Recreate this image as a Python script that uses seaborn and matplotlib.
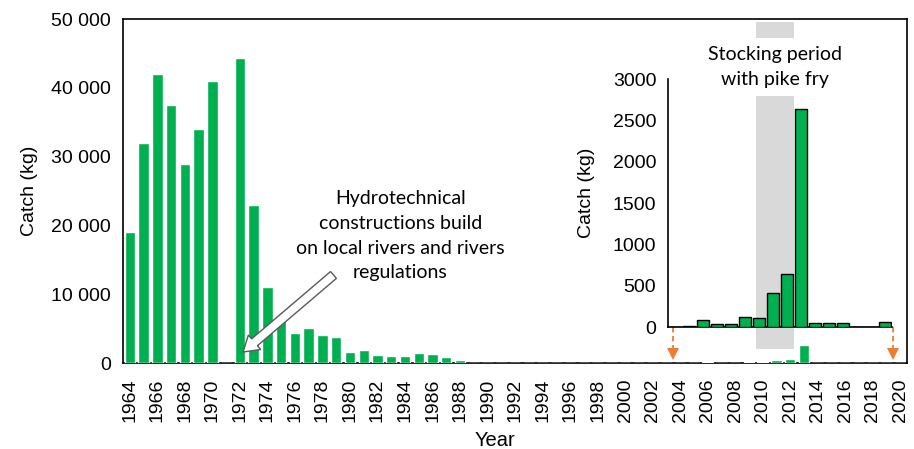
import matplotlib
matplotlib.use("Agg")
import matplotlib.pyplot as plt
import seaborn as sns
import pandas as pd
from matplotlib.ticker import FuncFormatter, FixedLocator
from matplotlib.patches import FancyArrow
from matplotlib.transforms import IdentityTransform

# ---------------- data ----------------
years = list(range(1964, 2021))
catch = [19000, 32000, 42000, 37500, 29000, 34000, 41000, 0, 44400, 23000,
         11000, 6300, 4400, 5100, 4000, 3850, 1600, 1900, 1150, 950,
         950, 1400, 1300, 900, 430, 0, 0, 0, 0, 0,
         0, 0, 0, 0, 0, 0, 0, 0, 0, 0,
         0, 10, 80, 40, 40, 120, 105, 410, 640, 2640,
         45, 45, 48, 0, 0, 60, 0]

inset_years = list(range(2004, 2020))
inset_catch = [0, 10, 80, 40, 40, 120, 105, 410, 640, 2640, 45, 45, 48, 0, 0, 60]

stock_start, stock_end = 2010, 2012
label_years = years[::2]

main_yticks = [0, 10000, 20000, 30000, 40000, 50000]
inset_yticks = [0, 500, 1000, 1500, 2000, 2500, 3000]

GREEN = "#00B050"
GRAY = "#D9D9D9"
ORANGE = "#ED7D31"

sns.set_style("white")
plt.rcParams["font.family"] = ["Liberation Sans", "DejaVu Sans"]
for k in ["text.color", "axes.labelcolor", "xtick.color", "ytick.color", "axes.edgecolor"]:
    plt.rcParams[k] = "black"

df = pd.DataFrame({"Year": [str(y) for y in years], "Catch": catch})
dfi = pd.DataFrame({"Year": [str(y) for y in inset_years], "Catch": inset_catch})

fig = plt.figure(figsize=(9.14, 4.49), dpi=100)
ax = fig.add_axes([0.1346, 0.1915, 0.8578, 0.7661])

sns.barplot(data=df, x="Year", y="Catch", order=[str(y) for y in years],
            color=GREEN, saturation=1, width=0.76, ax=ax, zorder=3)
ax.set_xlim(-0.5, len(years) - 0.5)
ax.set_ylim(0, 50000)

ax.set_yticks(main_yticks)
ax.yaxis.set_major_formatter(FuncFormatter(lambda v, p: f"{int(v):,}".replace(",", " ")))
ax.set_xticks([years.index(y) for y in label_years])
ax.set_xticklabels([str(y) for y in label_years], rotation=90)
ax.xaxis.set_minor_locator(FixedLocator([i - 0.5 for i in range(len(years) + 1)]))
ax.tick_params(axis="x", which="major", length=0, labelsize=14, pad=11)
ax.tick_params(axis="x", which="minor", length=5, width=1.2, direction="out", color="black")
ax.tick_params(axis="y", which="major", length=5, width=1.2, direction="out", labelsize=14, color="black")
for s in ax.spines.values():
    s.set_color("black")
    s.set_linewidth(1.2)
ax.set_xlabel("Year", fontsize=14.5)
ax.xaxis.set_label_coords(0.4745, -0.198)
ax.set_ylabel("Catch (kg)", fontsize=14)
ax.yaxis.set_label_coords(-0.109, 0.5)

# stocking period band
x0 = years.index(stock_start) - 0.5
x1 = years.index(stock_end) + 0.25
ax.axvspan(x0, x1, ymin=0.0407, ymax=0.991, color=GRAY, zorder=1, lw=0)
ax.text((x0 + x1) / 2, 43000, "Stocking period\nwith pike fry", ha="center", va="center",
        fontsize=14, family=["Lato", "DejaVu Sans"], linespacing=1.6, zorder=2,
        bbox=dict(boxstyle="square,pad=0.4", fc="white", ec="none"))

# hydro annotation
i1972 = years.index(1972)
ax.text(19.65, 18500, "Hydrotechnical\nconstructions build\non local rivers and rivers\nregulations",
        ha="center", va="center", fontsize=14, family=["Lato", "DejaVu Sans"],
        linespacing=1.55, zorder=5)
(tx, ty) = ax.transData.transform((14.8, 12800))
(hx, hy) = ax.transData.transform((i1972 + 0.23, 1600))
arrow = FancyArrow(tx, ty, hx - tx, hy - ty, width=9, head_width=19, head_length=15,
                   length_includes_head=True, fc="white", ec="#595959", lw=1,
                   transform=IdentityTransform(), zorder=6)
fig.add_artist(arrow)

# inset
axi = fig.add_axes([0.7309, 0.2717, 0.2451, 0.5523])
axi.patch.set_alpha(0)
sns.barplot(data=dfi, x="Year", y="Catch", order=[str(y) for y in inset_years],
            color=GREEN, saturation=1, width=0.8, edgecolor="black", linewidth=1,
            ax=axi, zorder=3)
axi.set_xlim(-0.5, len(inset_years) - 0.5)
axi.set_ylim(0, 3000)
axi.set_yticks(inset_yticks)
axi.set_xticks([])
axi.xaxis.set_minor_locator(FixedLocator([i - 0.5 for i in range(len(inset_years) + 1)]))
axi.tick_params(axis="x", which="minor", length=5, width=1.2, direction="out", color="black")
axi.tick_params(axis="y", which="major", length=5, width=1.2, direction="out", labelsize=14, color="black")
for k in ["top", "right"]:
    axi.spines[k].set_visible(False)
for k in ["left", "bottom"]:
    axi.spines[k].set_color("black")
    axi.spines[k].set_linewidth(1.2)
axi.set_xlabel("")
axi.set_ylabel("Catch (kg)", fontsize=14)
axi.yaxis.set_label_coords(-0.325, 0.54)

# orange dashed arrows linking inset to main axis
y_inset_bottom = 5233
for xx in [years.index(inset_years[0]) - 0.5, years.index(inset_years[-1]) + 0.5]:
    ax.plot([xx, xx], [y_inset_bottom, 1900], color=ORANGE, lw=1.3, ls=(0, (3, 2)),
            zorder=4, clip_on=False)
    ax.plot([xx], [1250], marker="v", color=ORANGE, markersize=8.5, zorder=4,
            clip_on=False, markeredgewidth=0)

fig.savefig("out.png", dpi=100)
